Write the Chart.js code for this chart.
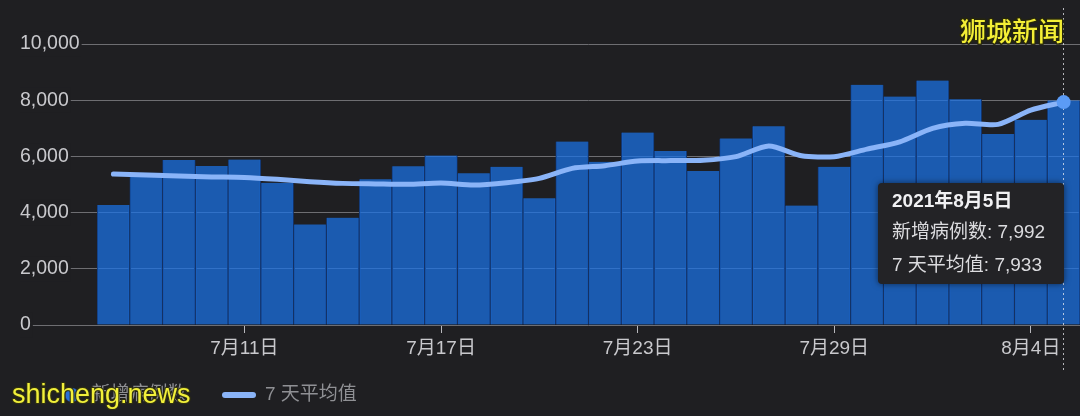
<!DOCTYPE html>
<html>
<head>
<meta charset="utf-8">
<script src="https://cdn.jsdelivr.net/npm/chart.js@4.4.1/dist/chart.umd.min.js"></script>
<style>
  html, body { margin: 0; padding: 0; background: #1f1f22; }
  #wrap { position: relative; width: 1080px; height: 416px; }
</style>
</head>
<body>
<div id="wrap"><canvas id="c" width="1080" height="416"></canvas></div>
<script>
// Daily new cases and their 7-day average, 7 Jul – 5 Aug 2021
const YEAR = '2021年';
const days = [
  '7月7日', '7月8日', '7月9日', '7月10日', '7月11日', '7月12日', '7月13日', '7月14日',
  '7月15日', '7月16日', '7月17日', '7月18日', '7月19日', '7月20日', '7月21日', '7月22日',
  '7月23日', '7月24日', '7月25日', '7月26日', '7月27日', '7月28日', '7月29日', '7月30日',
  '7月31日', '8月1日', '8月2日', '8月3日', '8月4日', '8月5日'
];
const newCases = [
  4270, 5420, 5870, 5660, 5890, 5060, 3580, 3820, 5190, 5650,
  6030, 5400, 5630, 4510, 6530, 5810, 6850, 6190, 5480, 6640,
  7070, 4250, 5630, 8550, 8130, 8700, 8030, 6800, 7300, 7992
];
const avg7 = [
  5370, 5340, 5300, 5270, 5250, 5185, 5100, 5040, 5020, 5005,
  5050, 4980, 5065, 5220, 5575, 5670, 5835, 5850, 5860, 5990,
  6370, 6025, 5990, 6260, 6520, 7000, 7180, 7140, 7650, 7933
];
const labeledDays = ['7月11日', '7月17日', '7月23日', '7月29日', '8月4日'];
const seriesNames = ['新增病例数', '7 天平均值'];
const yMax = 10000;
const yStep = 2000;

const BG = '#1f1f22';
const GRID = '#6e6e72';
const FONT = '"Liberation Sans", "Noto Sans CJK SC", sans-serif';
const BAR_FILL = 'rgba(26,115,232,0.72)';
const BAR_EDGE = '#14346a';
const LINE = '#8ab4f8';
const DOT = '#5b9bf6';

// legend swatches, drawn centred in a wide legend box
function circleSwatch() {
  const c = document.createElement('canvas');
  c.width = 80; c.height = 20;
  const g = c.getContext('2d');
  g.fillStyle = '#2a6fd6';
  g.beginPath(); g.arc(59.5, 10, 7, 0, Math.PI * 2); g.fill();
  return c;
}
function lineSwatch() {
  const c = document.createElement('canvas');
  c.width = 80; c.height = 10;
  const g = c.getContext('2d');
  g.strokeStyle = LINE; g.lineWidth = 6; g.lineCap = 'round';
  g.beginPath(); g.moveTo(39, 5); g.lineTo(67, 5); g.stroke();
  return c;
}
const swatches = [circleSwatch(), lineSwatch()];

const last = days.length - 1;

// left-aligned value labels start a little inside the axis box
const axisInset = {
  id: 'axisInset',
  afterLayout(chart) { chart.scales.y.left += 7; }
};

// hover guide, focused point box and site marks
const overlay = {
  id: 'overlay',
  afterDatasetDraw(chart, args) {
    if (args.index !== 0) return;
    const x = Math.round(chart.scales.x.getPixelForValue(last)) - 0.5;
    const ctx = chart.ctx;
    ctx.save();
    ctx.strokeStyle = 'rgba(235,235,240,0.75)';
    ctx.lineWidth = 1;
    ctx.setLineDash([2, 3]);
    ctx.beginPath(); ctx.moveTo(x, 8); ctx.lineTo(x, 372); ctx.stroke();
    ctx.restore();
  },
  afterDraw(chart) {
    const ctx = chart.ctx;
    const right = Math.round(chart.scales.x.getPixelForValue(last));
    const left = right - 186, top = 183, h = 101;
    ctx.save();
    ctx.shadowColor = 'rgba(0,0,0,0.55)';
    ctx.shadowBlur = 6;
    ctx.fillStyle = '#232326';
    ctx.beginPath();
    ctx.roundRect(left, top, right - left, h, 4);
    ctx.fill();
    ctx.restore();

    ctx.save();
    ctx.textBaseline = 'middle';
    ctx.textAlign = 'left';
    ctx.fillStyle = '#f1f1f3';
    ctx.font = 'bold 19px ' + FONT;
    ctx.fillText(YEAR + days[last], left + 14, top + 19);
    ctx.fillStyle = '#dcdcdf';
    ctx.font = '19px ' + FONT;
    ctx.fillText(seriesNames[0] + ': ' + newCases[last].toLocaleString('en-US'), left + 14, top + 50);
    ctx.fillText(seriesNames[1] + ': ' + avg7[last].toLocaleString('en-US'), left + 14, top + 83);
    ctx.restore();

    // site marks
    ctx.save();
    ctx.lineJoin = 'round';
    ctx.textBaseline = 'middle';
    ctx.textAlign = 'right';
    ctx.font = '500 26px "Noto Sans CJK SC"';
    ctx.strokeStyle = 'rgba(40,40,10,0.9)';
    ctx.lineWidth = 3;
    ctx.strokeText('狮城新闻', 1064, 31);
    ctx.fillStyle = '#f4ef36';
    ctx.fillText('狮城新闻', 1064, 31);

    ctx.textAlign = 'left';
    ctx.textBaseline = 'alphabetic';
    ctx.font = '27px "Liberation Sans"';
    ctx.strokeStyle = 'rgba(50,50,15,0.9)';
    ctx.lineWidth = 2.5;
    ctx.strokeText('shicheng.news', 12, 403);
    ctx.fillStyle = '#f2f03a';
    ctx.fillText('shicheng.news', 12, 403);
    ctx.restore();
  }
};

new Chart(document.getElementById('c'), {
  data: {
    labels: days,
    datasets: [
      {
        type: 'bar',
        label: seriesNames[0],
        data: newCases,
        order: 1,
        backgroundColor: BAR_FILL,
        borderColor: BAR_EDGE,
        borderWidth: { left: 1, right: 1, top: 0, bottom: 0 },
        borderSkipped: false,
        categoryPercentage: 1,
        barPercentage: 1
      },
      {
        type: 'line',
        label: seriesNames[1],
        data: avg7,
        order: 0,
        borderColor: LINE,
        borderWidth: 5,
        borderCapStyle: 'round',
        borderJoinStyle: 'round',
        tension: 0.25,
        pointRadius: c => (c.dataIndex === last ? 7 : 0),
        pointBackgroundColor: DOT,
        pointBorderWidth: 0
      }
    ]
  },
  options: {
    responsive: false,
    devicePixelRatio: 1,
    animation: false,
    events: [],
    layout: { autoPadding: false, padding: { top: 44, left: 13, right: 0, bottom: 1.5 } },
    scales: {
      x: {
        type: 'category',
        offset: true,
        afterFit: s => { s.height = 50.5; },
        border: { display: false },
        grid: {
          display: true,
          offset: false,
          drawOnChartArea: false,
          drawTicks: true,
          tickLength: 8,
          tickColor: '#b8b8bc',
          tickWidth: 1
        },
        ticks: {
          autoSkip: false,
          maxRotation: 0,
          padding: 4,
          color: '#c9c9cd',
          font: { family: FONT, size: 19 },
          callback(value) {
            const lab = this.getLabelForValue(value);
            return labeledDays.includes(lab) ? lab : null;
          }
        }
      },
      y: {
        min: 0,
        max: yMax,
        afterFit: s => { s.width = 84; },
        border: { display: false },
        grid: {
          color: GRID,
          lineWidth: 1,
          drawTicks: true,
          tickLength: 65,
          tickColor: GRID
        },
        ticks: {
          stepSize: yStep,
          crossAlign: 'far',
          padding: 0,
          color: '#c9c9cd',
          font: { family: FONT, size: 19.5 },
          showLabelBackdrop: true,
          backdropColor: BG,
          backdropPadding: { left: 2, right: 2, top: 1, bottom: 1 },
          callback: v => v.toLocaleString('en-US')
        }
      }
    },
    plugins: {
      tooltip: { enabled: false },
      legend: {
        display: true,
        position: 'bottom',
        align: 'start',
        labels: {
          usePointStyle: true,
          pointStyleWidth: 59,
          padding: 10,
          color: '#8f9094',
          font: { family: FONT, size: 19 },
          generateLabels(chart) {
            const items = Chart.defaults.plugins.legend.labels.generateLabels(chart);
            items.sort((a, b) => a.datasetIndex - b.datasetIndex);
            items.forEach(it => { it.pointStyle = swatches[it.datasetIndex]; it.fontColor = '#8f9094'; });
            return items;
          }
        }
      }
    }
  },
  plugins: [axisInset, overlay]
});
</script>
</body>
</html>
